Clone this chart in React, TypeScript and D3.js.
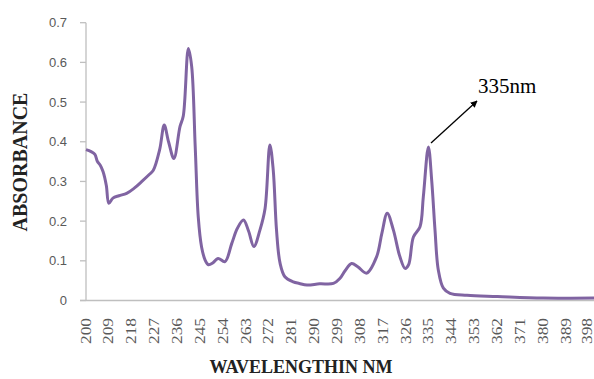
import * as React from 'react';
import * as d3 from 'd3';

// wavelength (nm) and absorbance
const wavelengths = [
  200, 202, 203.5, 204.5, 205.5, 206.7, 208, 209, 210.6, 213, 216, 219, 222, 225, 226.5,
  229, 230.8, 232.5, 234.6, 237, 238.3, 240.3, 241.6, 243, 244.2, 245.5, 246.9, 248.2, 250,
  252, 254.7, 257.4, 259.6, 262, 264, 266.1, 268.5, 270.5, 272.4, 273.7, 275, 276.4, 278.3,
  281.6, 284, 287, 292, 297.4, 300, 302, 304.6, 307, 310.5, 314.4, 316.5, 318.6, 321, 323.6,
  325.6, 327, 328.9, 331.5, 332.8, 334.8, 336.1, 337.4, 338.7, 340.7, 343.3, 350, 362, 380, 400,
];
const absorbance = [
  0.38, 0.375, 0.368, 0.35, 0.342, 0.325, 0.29, 0.245, 0.258, 0.264, 0.27, 0.283, 0.3, 0.318, 0.328,
  0.38, 0.442, 0.4, 0.358, 0.438, 0.465, 0.635, 0.59, 0.387, 0.21, 0.135, 0.102, 0.09, 0.095,
  0.106, 0.098, 0.144, 0.182, 0.203, 0.175, 0.136, 0.178, 0.232, 0.392, 0.33, 0.178, 0.094, 0.06,
  0.047, 0.043, 0.039, 0.042, 0.043, 0.056, 0.075, 0.093, 0.085, 0.069, 0.11, 0.17, 0.22, 0.178, 0.11,
  0.081, 0.09, 0.16, 0.186, 0.261, 0.387, 0.303, 0.178, 0.077, 0.031, 0.018, 0.013, 0.01, 0.006, 0.006,
];
const xTickLabels = [
  200, 209, 218, 227, 236, 245, 254, 263, 272, 281, 290, 299, 308, 317, 326, 335, 344, 353,
  362, 371, 380, 389, 398,
];
const yTickValues = [0, 0.1, 0.2, 0.3, 0.4, 0.5, 0.6, 0.7];
const peakLabel = '335nm';

const W = 594;
const H = 379;

export default function App() {
  const x = d3.scaleLinear().domain([200, 400]).range([86, 594]);
  const y = d3.scaleLinear().domain([0, 0.7]).range([300.5, 22.7]);

  const pts: [number, number][] = wavelengths.map((w, i) => [w, absorbance[i]]);
  const line = d3.line<[number, number]>()
    .x(d => x(d[0]))
    .y(d => y(d[1]))
    .curve(d3.curveCatmullRom.alpha(0.5));

  const grey = '#bfbfbf';
  const tickText = '#595959';
  const serif = 'Liberation Serif, Times New Roman, serif';

  return (
    <svg width={W} height={H} style={{ position: 'absolute', left: 0, top: 0, background: '#fff' }}>
      <defs>
        <marker id="arrow" viewBox="0 0 10 10" refX="9" refY="5" markerWidth="7" markerHeight="7"
          orient="auto" markerUnits="userSpaceOnUse">
          <path d="M0,0 L10,5 L0,10 z" fill="#000" />
        </marker>
      </defs>

      {/* y axis */}
      <line x1={x(200)} x2={x(200)} y1={y(0.7)} y2={y(0)} stroke={grey} strokeWidth={1.3} />
      {yTickValues.map(v => (
        <g key={v}>
          <line x1={80} x2={x(200)} y1={y(v)} y2={y(v)} stroke={grey} strokeWidth={1.3} />
          <text x={67} y={y(v)} dy="0.35em" textAnchor="end" fontFamily="Liberation Sans, Arial, sans-serif"
            fontSize={13} fill={tickText}>
            {d3.format('')(v)}
          </text>
        </g>
      ))}

      {/* x axis */}
      <line x1={80} x2={W} y1={y(0)} y2={y(0)} stroke={grey} strokeWidth={1.3} />
      {xTickLabels.map(t => (
        <text key={t} transform={`translate(${Math.min(x(t), 587)},318) rotate(-90)`} textAnchor="end"
          dominantBaseline="central" fontFamily={serif}
          fontSize={14} fill={tickText} textLength={26} lengthAdjust="spacingAndGlyphs">
          {t}
        </text>
      ))}

      {/* spectrum */}
      <path d={line(pts) || ''} fill="none" stroke="#8064a2" strokeWidth={3} strokeLinejoin="round" />

      {/* annotation */}
      <line x1={431} y1={143} x2={477} y2={101} stroke="#000" strokeWidth={1.3} markerEnd="url(#arrow)" />
      <text x={478} y={93} fontFamily={serif} fontSize={21} fill="#000">
        {peakLabel}
      </text>

      {/* axis titles */}
      <text transform="translate(27,162) rotate(-90)" textAnchor="middle"
        fontFamily={serif} fontWeight="bold" fontSize={20} fill="#222">
        ABSORBANCE
      </text>
      <text x={301} y={373} textAnchor="middle" fontFamily={serif}
        fontWeight="bold" fontSize={18} fill="#222">
        WAVELENGTHIN NM
      </text>
    </svg>
  );
}
